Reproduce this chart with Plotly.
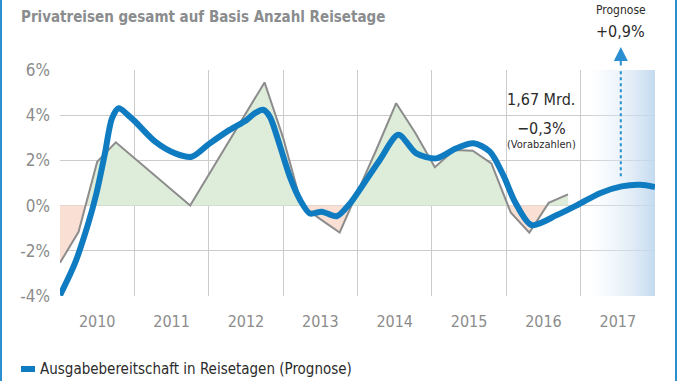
import plotly.graph_objects as go

# ---------------- data ----------------
years = ["2010", "2011", "2012", "2013", "2014", "2015", "2016", "2017"]
y_ticks = [-4, -2, 0, 2, 4, 6]
y_ticktext = ["-4%", "-2%", "0%", "2%", "4%", "6%"]

# Reisetage (actual, grey line)
actual_x = [2010.0, 2010.25, 2010.5, 2010.75, 2011.75, 2012.75, 2013.0, 2013.25, 2013.5,
            2013.76, 2014.0, 2014.25, 2014.52, 2014.78, 2015.04, 2015.3, 2015.55, 2015.8,
            2016.06, 2016.31, 2016.57, 2016.83]
actual_y = [-2.53, -1.16, 1.94, 2.8, 0.0, 5.45, 3.0, 0.0, -0.6,
            -1.19, 0.6, 2.45, 4.53, 3.2, 1.7, 2.46, 2.43, 1.87,
            -0.3, -1.2, 0.12, 0.5]

# Ausgabebereitschaft in Reisetagen (Prognose), blue line
spend_x = [2010.0, 2010.2, 2010.38, 2010.49, 2010.6, 2010.7, 2010.79, 2010.9, 2011.01, 2011.28,
           2011.55, 2011.77, 2012.0, 2012.28, 2012.51, 2012.62, 2012.73, 2012.82, 2012.96, 2013.09,
           2013.23, 2013.36, 2013.52, 2013.72, 2013.9, 2014.05, 2014.3, 2014.55, 2014.79, 2015.06,
           2015.33, 2015.56, 2015.78, 2015.96, 2016.12, 2016.34, 2016.68, 2016.97, 2017.26, 2017.55,
           2017.8, 2018.0]
spend_y = [-3.97, -2.56, -0.79, 0.54, 2.24, 3.87, 4.31, 4.05, 3.72, 2.83,
           2.31, 2.16, 2.72, 3.35, 3.79, 4.09, 4.24, 3.94, 2.61, 1.28,
           0.24, -0.35, -0.27, -0.47, 0.1, 0.8, 2.02, 3.13, 2.31, 2.09,
           2.54, 2.76, 2.39, 1.35, 0.15, -0.86, -0.42, 0.05, 0.55, 0.85,
           0.92, 0.82]

forecast_year = 2017
forecast_arrow = [1.3, 6.0]  # dotted arrow span (in %)

FONT = "DejaVu Sans Condensed, Liberation Sans Narrow, Arial Narrow, sans-serif"
BLUE = "#0f7bc1"
LIGHTBLUE = "#2a8fd0"
GREY = "#8c8c8c"
GRID = "#cccccc"
TXT = "#2b2b2b"

# split the grey series into positive / negative parts (insert zero crossings)
px, py = [], []
for i in range(len(actual_x)):
    if i > 0:
        x0, y0, x1, y1 = actual_x[i - 1], actual_y[i - 1], actual_x[i], actual_y[i]
        if y0 * y1 < 0:
            xc = x0 + (x1 - x0) * (0 - y0) / (y1 - y0)
            px.append(xc)
            py.append(0.0)
    px.append(actual_x[i])
    py.append(actual_y[i])
pos_y = [max(v, 0) for v in py]
neg_y = [min(v, 0) for v in py]

fig = go.Figure()

# forecast band with horizontal gradient
fig.add_trace(go.Scatter(
    x=[forecast_year, forecast_year + 1, forecast_year + 1, forecast_year, forecast_year],
    y=[y_ticks[0], y_ticks[0], y_ticks[-1], y_ticks[-1], y_ticks[0]],
    fill="toself", mode="lines", line=dict(width=0),
    fillgradient=dict(type="horizontal",
                      colorscale=[[0, "rgba(255,255,255,0)"], [0.3, "rgba(230,239,248,0.3)"],
                                  [1, "rgba(190,214,238,0.9)"]]),
    hoverinfo="skip", showlegend=False))

fig.add_trace(go.Scatter(x=px, y=pos_y, mode="lines", line=dict(width=0),
                         fill="tozeroy", fillcolor="#deedda", hoverinfo="skip", showlegend=False))
fig.add_trace(go.Scatter(x=px, y=neg_y, mode="lines", line=dict(width=0),
                         fill="tozeroy", fillcolor="#fadfd4", hoverinfo="skip", showlegend=False))

fig.add_trace(go.Scatter(x=actual_x, y=actual_y, mode="lines",
                         line=dict(color=GREY, width=2), showlegend=False))

fig.add_trace(go.Scatter(x=spend_x, y=spend_y, mode="lines",
                         line=dict(color=BLUE, width=6, shape="spline", smoothing=0.8),
                         name="Ausgabebereitschaft in Reisetagen (Prognose)", showlegend=False))

arrow_x = forecast_year + 0.54
fig.add_shape(type="line", xref="x", yref="y", x0=arrow_x, x1=arrow_x,
              y0=forecast_arrow[0], y1=forecast_arrow[1],
              line=dict(color=LIGHTBLUE, width=2, dash="dot"))


def py_(p):  # pixel row -> paper y
    return (296 - p) / 226


def px_(p):  # pixel column -> paper x
    return (p - 60) / 595


fig.add_annotation(xref="x", yref="paper", x=arrow_x, y=py_(47), ax=0, ay=20,
                   axref="pixel", ayref="pixel", text="", showarrow=True,
                   arrowhead=2, arrowsize=1.4, arrowwidth=2, arrowcolor=LIGHTBLUE)

# frame lines left/right
for xpix in (1, 676):
    fig.add_shape(type="line", xref="paper", yref="paper", x0=px_(xpix), x1=px_(xpix),
                  y0=py_(0), y1=py_(381), line=dict(color=LIGHTBLUE, width=2))

# legend marker
fig.add_shape(type="rect", xref="paper", yref="paper", x0=px_(21), x1=px_(35),
              y0=py_(372), y1=py_(366), line=dict(width=0), fillcolor=BLUE)

ann = [
    dict(text="<b>Privatreisen gesamt auf Basis Anzahl Reisetage</b>", xref="paper", yref="paper",
         x=px_(19), y=py_(17), xanchor="left", yanchor="middle", font=dict(size=15, color="#8a8c8e")),
    dict(text="Ausgabebereitschaft in Reisetagen (Prognose)", xref="paper", yref="paper",
         x=px_(38), y=py_(369), xanchor="left", yanchor="middle", font=dict(size=15, color=TXT)),
    dict(text="1,67 Mrd.", xref="x", yref="y", x=2016.47, y=4.68, font=dict(size=16, color=TXT)),
    dict(text="\u22120,3%", xref="x", yref="y", x=2016.47, y=3.4, font=dict(size=16, color=TXT)),
    dict(text="(Vorabzahlen)", xref="x", yref="y", x=2016.47, y=2.7, font=dict(size=11, color=TXT)),
    dict(text="Prognose", xref="x", yref="paper", x=arrow_x, y=py_(10), font=dict(size=12, color=TXT)),
    dict(text="+0,9%", xref="x", yref="paper", x=arrow_x, y=py_(32), font=dict(size=16, color=TXT)),
]
for a in ann:
    a.setdefault("xanchor", "center")
    a.setdefault("yanchor", "middle")
    fig.add_annotation(showarrow=False, **a)

fig.update_layout(
    width=678, height=381,
    margin=dict(l=60, r=23, t=70, b=85),
    paper_bgcolor="white", plot_bgcolor="white",
    font=dict(family=FONT, color="#8c8c8c", size=16),
    xaxis=dict(range=[2010, 2018], tickvals=[int(y) + 0.5 for y in years], ticktext=years,
               showgrid=False, zeroline=False, showline=False, ticks="",
               ticklabelstandoff=14, tickfont=dict(size=16, color="#8c8c8c"),
               minor=dict(tick0=2010, dtick=1, showgrid=True, gridcolor=GRID, gridwidth=1)),
    yaxis=dict(range=[y_ticks[0], y_ticks[-1]], tickvals=y_ticks, ticktext=y_ticktext,
               showgrid=True, gridcolor=GRID, gridwidth=1, zeroline=False, showline=False,
               ticks="", ticklabelstandoff=9, tickfont=dict(size=17, color="#8c8c8c")),
)

fig.write_html("out.html", config={"displayModeBar": False},
               post_script="document.body.style.margin='0px';document.body.style.overflow='hidden';")
